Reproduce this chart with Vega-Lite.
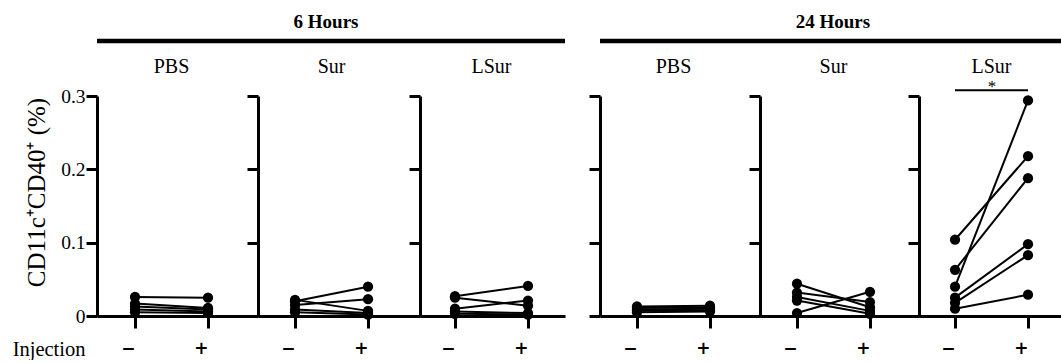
{
  "$schema": "https://vega.github.io/schema/vega-lite/v6.json",
  "padding": {"left": 12, "top": 12, "right": 0, "bottom": 0},
  "config": {
    "view": {"stroke": null},
    "font": "Liberation Serif",
    "axis": {"grid": false, "domainColor": "black", "domainWidth": 3, "tickColor": "black", "tickWidth": 3, "labelColor": "black", "titleColor": "black"},
    "text": {"color": "black", "font": "Liberation Serif", "fontSize": 20, "baseline": "middle", "align": "center", "clip": false}
  },
  "data": {"values": [
    {"time": "6 Hours", "treatment": "PBS", "subject": 1, "injection": "−", "value": 0.026},
    {"time": "6 Hours", "treatment": "PBS", "subject": 1, "injection": "+", "value": 0.025},
    {"time": "6 Hours", "treatment": "PBS", "subject": 2, "injection": "−", "value": 0.017},
    {"time": "6 Hours", "treatment": "PBS", "subject": 2, "injection": "+", "value": 0.011},
    {"time": "6 Hours", "treatment": "PBS", "subject": 3, "injection": "−", "value": 0.013},
    {"time": "6 Hours", "treatment": "PBS", "subject": 3, "injection": "+", "value": 0.009},
    {"time": "6 Hours", "treatment": "PBS", "subject": 4, "injection": "−", "value": 0.009},
    {"time": "6 Hours", "treatment": "PBS", "subject": 4, "injection": "+", "value": 0.006},
    {"time": "6 Hours", "treatment": "PBS", "subject": 5, "injection": "−", "value": 0.005},
    {"time": "6 Hours", "treatment": "PBS", "subject": 5, "injection": "+", "value": 0.004},
    {"time": "6 Hours", "treatment": "Sur", "subject": 1, "injection": "−", "value": 0.020},
    {"time": "6 Hours", "treatment": "Sur", "subject": 1, "injection": "+", "value": 0.040},
    {"time": "6 Hours", "treatment": "Sur", "subject": 2, "injection": "−", "value": 0.022},
    {"time": "6 Hours", "treatment": "Sur", "subject": 2, "injection": "+", "value": 0.007},
    {"time": "6 Hours", "treatment": "Sur", "subject": 3, "injection": "−", "value": 0.015},
    {"time": "6 Hours", "treatment": "Sur", "subject": 3, "injection": "+", "value": 0.023},
    {"time": "6 Hours", "treatment": "Sur", "subject": 4, "injection": "−", "value": 0.009},
    {"time": "6 Hours", "treatment": "Sur", "subject": 4, "injection": "+", "value": 0.004},
    {"time": "6 Hours", "treatment": "Sur", "subject": 5, "injection": "−", "value": 0.005},
    {"time": "6 Hours", "treatment": "Sur", "subject": 5, "injection": "+", "value": 0.002},
    {"time": "6 Hours", "treatment": "LSur", "subject": 1, "injection": "−", "value": 0.027},
    {"time": "6 Hours", "treatment": "LSur", "subject": 1, "injection": "+", "value": 0.041},
    {"time": "6 Hours", "treatment": "LSur", "subject": 2, "injection": "−", "value": 0.025},
    {"time": "6 Hours", "treatment": "LSur", "subject": 2, "injection": "+", "value": 0.014},
    {"time": "6 Hours", "treatment": "LSur", "subject": 3, "injection": "−", "value": 0.010},
    {"time": "6 Hours", "treatment": "LSur", "subject": 3, "injection": "+", "value": 0.021},
    {"time": "6 Hours", "treatment": "LSur", "subject": 4, "injection": "−", "value": 0.006},
    {"time": "6 Hours", "treatment": "LSur", "subject": 4, "injection": "+", "value": 0.004},
    {"time": "6 Hours", "treatment": "LSur", "subject": 5, "injection": "−", "value": 0.003},
    {"time": "6 Hours", "treatment": "LSur", "subject": 5, "injection": "+", "value": 0.002},
    {"time": "24 Hours", "treatment": "PBS", "subject": 1, "injection": "−", "value": 0.013},
    {"time": "24 Hours", "treatment": "PBS", "subject": 1, "injection": "+", "value": 0.014},
    {"time": "24 Hours", "treatment": "PBS", "subject": 2, "injection": "−", "value": 0.011},
    {"time": "24 Hours", "treatment": "PBS", "subject": 2, "injection": "+", "value": 0.012},
    {"time": "24 Hours", "treatment": "PBS", "subject": 3, "injection": "−", "value": 0.009},
    {"time": "24 Hours", "treatment": "PBS", "subject": 3, "injection": "+", "value": 0.010},
    {"time": "24 Hours", "treatment": "PBS", "subject": 4, "injection": "−", "value": 0.007},
    {"time": "24 Hours", "treatment": "PBS", "subject": 4, "injection": "+", "value": 0.008},
    {"time": "24 Hours", "treatment": "PBS", "subject": 5, "injection": "−", "value": 0.005},
    {"time": "24 Hours", "treatment": "PBS", "subject": 5, "injection": "+", "value": 0.006},
    {"time": "24 Hours", "treatment": "Sur", "subject": 1, "injection": "−", "value": 0.004},
    {"time": "24 Hours", "treatment": "Sur", "subject": 1, "injection": "+", "value": 0.033},
    {"time": "24 Hours", "treatment": "Sur", "subject": 2, "injection": "−", "value": 0.044},
    {"time": "24 Hours", "treatment": "Sur", "subject": 2, "injection": "+", "value": 0.012},
    {"time": "24 Hours", "treatment": "Sur", "subject": 3, "injection": "−", "value": 0.032},
    {"time": "24 Hours", "treatment": "Sur", "subject": 3, "injection": "+", "value": 0.019},
    {"time": "24 Hours", "treatment": "Sur", "subject": 4, "injection": "−", "value": 0.026},
    {"time": "24 Hours", "treatment": "Sur", "subject": 4, "injection": "+", "value": 0.007},
    {"time": "24 Hours", "treatment": "Sur", "subject": 5, "injection": "−", "value": 0.021},
    {"time": "24 Hours", "treatment": "Sur", "subject": 5, "injection": "+", "value": 0.003},
    {"time": "24 Hours", "treatment": "LSur", "subject": 1, "injection": "−", "value": 0.104},
    {"time": "24 Hours", "treatment": "LSur", "subject": 1, "injection": "+", "value": 0.218},
    {"time": "24 Hours", "treatment": "LSur", "subject": 2, "injection": "−", "value": 0.063},
    {"time": "24 Hours", "treatment": "LSur", "subject": 2, "injection": "+", "value": 0.188},
    {"time": "24 Hours", "treatment": "LSur", "subject": 3, "injection": "−", "value": 0.040},
    {"time": "24 Hours", "treatment": "LSur", "subject": 3, "injection": "+", "value": 0.294},
    {"time": "24 Hours", "treatment": "LSur", "subject": 4, "injection": "−", "value": 0.025},
    {"time": "24 Hours", "treatment": "LSur", "subject": 4, "injection": "+", "value": 0.098},
    {"time": "24 Hours", "treatment": "LSur", "subject": 5, "injection": "−", "value": 0.018},
    {"time": "24 Hours", "treatment": "LSur", "subject": 5, "injection": "+", "value": 0.083},
    {"time": "24 Hours", "treatment": "LSur", "subject": 6, "injection": "−", "value": 0.010},
    {"time": "24 Hours", "treatment": "LSur", "subject": 6, "injection": "+", "value": 0.029}
  ]},
  "bounds": "flush",
  "spacing": 0,
  "hconcat": [
    {
      "width": 161, "height": 220,
      "layer": [
        {"data": {"values": [{"group": "6 Hours"}]},
         "mark": {"type": "rule", "strokeWidth": 4.5, "color": "black", "clip": false},
         "encoding": {"y": {"datum": 0.375}}},
        {"data": {"values": [{"label": "PBS"}]},
         "mark": {"type": "text", "dx": 36.5},
         "encoding": {"x": {"datum": "−"}, "y": {"datum": 0.339}, "text": {"field": "label"}}},
        {"transform": [{"filter": "datum.time === '6 Hours' && datum.treatment === 'PBS'"}],
         "mark": {"type": "line", "color": "black", "strokeWidth": 2},
         "encoding": {
           "x": {"field": "injection", "type": "nominal", "scale": {"type": "point", "domain": ["−", "+"], "padding": 0.6027, "align": 0.432},
             "axis": {"labelAngle": 0, "tickSize": 12, "labelFont": "DejaVu Sans", "labelFontWeight": "bold", "labelFontSize": 17, "labelPadding": 20, "title": "Injection", "titleFont": "Liberation Serif", "titleFontSize": 20.5, "titleFontWeight": "normal", "titleX": -12, "titleY": 39, "titleAlign": "right", "titleBaseline": "alphabetic"}},
           "y": {"field": "value", "type": "quantitative", "scale": {"domain": [0, 0.3], "nice": false},
             "axis": {"values": [0, 0.05, 0.1, 0.15, 0.2, 0.25, 0.3], "tickSize": 11, "labelPadding": 1, "labelFont": "Liberation Serif", "labelFontSize": 19.5,
               "labelExpr": "round(datum.value * 20) % 2 === 0 ? (datum.value === 0 ? '0' : format(datum.value, '.1f')) : ''",
               "title": "CD11c⁺CD40⁺ (%)", "titleFont": "Liberation Serif", "titleFontSize": 25, "titleFontWeight": "normal", "titleX": -61, "titleY": 96, "titleAngle": 270, "titleAlign": "center", "titleBaseline": "middle"}},
           "detail": {"field": "subject", "type": "nominal"}
         }},
        {"transform": [{"filter": "datum.time === '6 Hours' && datum.treatment === 'PBS'"}],
         "mark": {"type": "circle", "color": "black", "size": 105, "opacity": 1},
         "encoding": {"x": {"field": "injection", "type": "nominal"}, "y": {"field": "value", "type": "quantitative"}}}
      ]
    },
    {
      "width": 162, "height": 220,
      "layer": [
        {"data": {"values": [{"group": "6 Hours"}]},
         "mark": {"type": "rule", "strokeWidth": 4.5, "color": "black", "clip": false},
         "encoding": {"y": {"datum": 0.375}}},
        {"data": {"values": [{"group": "6 Hours"}]},
         "mark": {"type": "text", "fontWeight": "bold", "fontSize": 19, "dx": 31},
         "encoding": {"x": {"datum": "−"}, "y": {"datum": 0.401}, "text": {"field": "group"}}},
        {"data": {"values": [{"label": "Sur"}]},
         "mark": {"type": "text", "dx": 36.5},
         "encoding": {"x": {"datum": "−"}, "y": {"datum": 0.339}, "text": {"field": "label"}}},
        {"transform": [{"filter": "datum.time === '6 Hours' && datum.treatment === 'Sur'"}],
         "mark": {"type": "line", "color": "black", "strokeWidth": 2},
         "encoding": {
           "x": {"field": "injection", "type": "nominal", "scale": {"type": "point", "domain": ["−", "+"], "padding": 0.6096, "align": 0.416},
             "axis": {"labelAngle": 0, "tickSize": 12, "labelFont": "DejaVu Sans", "labelFontWeight": "bold", "labelFontSize": 17, "labelPadding": 20, "title": null}},
           "y": {"field": "value", "type": "quantitative", "scale": {"domain": [0, 0.3], "nice": false},
             "axis": {"values": [0, 0.05, 0.1, 0.15, 0.2, 0.25, 0.3], "tickSize": 11, "labels": false, "title": null}},
           "detail": {"field": "subject", "type": "nominal"}
         }},
        {"transform": [{"filter": "datum.time === '6 Hours' && datum.treatment === 'Sur'"}],
         "mark": {"type": "circle", "color": "black", "size": 105, "opacity": 1},
         "encoding": {"x": {"field": "injection", "type": "nominal"}, "y": {"field": "value", "type": "quantitative"}}}
      ]
    },
    {
      "width": 145, "height": 220,
      "layer": [
        {"data": {"values": [{"group": "6 Hours"}]},
         "mark": {"type": "rule", "strokeWidth": 4.5, "color": "black", "clip": false},
         "encoding": {"y": {"datum": 0.375}}},
        {"data": {"values": [{"label": "LSur"}]},
         "mark": {"type": "text", "dx": 36.5},
         "encoding": {"x": {"datum": "−"}, "y": {"datum": 0.339}, "text": {"field": "label"}}},
        {"transform": [{"filter": "datum.time === '6 Hours' && datum.treatment === 'LSur'"}],
         "mark": {"type": "line", "color": "black", "strokeWidth": 2},
         "encoding": {
           "x": {"field": "injection", "type": "nominal", "scale": {"type": "point", "domain": ["−", "+"], "padding": 0.4932, "align": 0.486},
             "axis": {"labelAngle": 0, "tickSize": 12, "labelFont": "DejaVu Sans", "labelFontWeight": "bold", "labelFontSize": 17, "labelPadding": 20, "title": null}},
           "y": {"field": "value", "type": "quantitative", "scale": {"domain": [0, 0.3], "nice": false},
             "axis": {"values": [0, 0.05, 0.1, 0.15, 0.2, 0.25, 0.3], "tickSize": 11, "labels": false, "title": null}},
           "detail": {"field": "subject", "type": "nominal"}
         }},
        {"transform": [{"filter": "datum.time === '6 Hours' && datum.treatment === 'LSur'"}],
         "mark": {"type": "circle", "color": "black", "size": 105, "opacity": 1},
         "encoding": {"x": {"field": "injection", "type": "nominal"}, "y": {"field": "value", "type": "quantitative"}}}
      ]
    },
    {
      "width": 35, "height": 220,
      "data": {"values": [{"group": ""}]},
      "mark": {"type": "text"},
      "encoding": {"text": {"field": "group"}}
    },
    {
      "width": 160, "height": 220,
      "layer": [
        {"data": {"values": [{"group": "24 Hours"}]},
         "mark": {"type": "rule", "strokeWidth": 4.5, "color": "black", "clip": false},
         "encoding": {"y": {"datum": 0.375}}},
        {"data": {"values": [{"label": "PBS"}]},
         "mark": {"type": "text", "dx": 36.5},
         "encoding": {"x": {"datum": "−"}, "y": {"datum": 0.339}, "text": {"field": "label"}}},
        {"transform": [{"filter": "datum.time === '24 Hours' && datum.treatment === 'PBS'"}],
         "mark": {"type": "line", "color": "black", "strokeWidth": 2},
         "encoding": {
           "x": {"field": "injection", "type": "nominal", "scale": {"type": "point", "domain": ["−", "+"], "padding": 0.596, "align": 0.425},
             "axis": {"labelAngle": 0, "tickSize": 12, "labelFont": "DejaVu Sans", "labelFontWeight": "bold", "labelFontSize": 17, "labelPadding": 20, "title": null}},
           "y": {"field": "value", "type": "quantitative", "scale": {"domain": [0, 0.3], "nice": false},
             "axis": {"values": [0, 0.05, 0.1, 0.15, 0.2, 0.25, 0.3], "tickSize": 11, "labels": false, "title": null}},
           "detail": {"field": "subject", "type": "nominal"}
         }},
        {"transform": [{"filter": "datum.time === '24 Hours' && datum.treatment === 'PBS'"}],
         "mark": {"type": "circle", "color": "black", "size": 105, "opacity": 1},
         "encoding": {"x": {"field": "injection", "type": "nominal"}, "y": {"field": "value", "type": "quantitative"}}}
      ]
    },
    {
      "width": 159, "height": 220,
      "layer": [
        {"data": {"values": [{"group": "24 Hours"}]},
         "mark": {"type": "rule", "strokeWidth": 4.5, "color": "black", "clip": false},
         "encoding": {"y": {"datum": 0.375}}},
        {"data": {"values": [{"group": "24 Hours"}]},
         "mark": {"type": "text", "fontWeight": "bold", "fontSize": 19, "dx": 36},
         "encoding": {"x": {"datum": "−"}, "y": {"datum": 0.401}, "text": {"field": "group"}}},
        {"data": {"values": [{"label": "Sur"}]},
         "mark": {"type": "text", "dx": 36.5},
         "encoding": {"x": {"datum": "−"}, "y": {"datum": 0.339}, "text": {"field": "label"}}},
        {"transform": [{"filter": "datum.time === '24 Hours' && datum.treatment === 'Sur'"}],
         "mark": {"type": "line", "color": "black", "strokeWidth": 2},
         "encoding": {
           "x": {"field": "injection", "type": "nominal", "scale": {"type": "point", "domain": ["−", "+"], "padding": 0.589, "align": 0.43},
             "axis": {"labelAngle": 0, "tickSize": 12, "labelFont": "DejaVu Sans", "labelFontWeight": "bold", "labelFontSize": 17, "labelPadding": 20, "title": null}},
           "y": {"field": "value", "type": "quantitative", "scale": {"domain": [0, 0.3], "nice": false},
             "axis": {"values": [0, 0.05, 0.1, 0.15, 0.2, 0.25, 0.3], "tickSize": 11, "labels": false, "title": null}},
           "detail": {"field": "subject", "type": "nominal"}
         }},
        {"transform": [{"filter": "datum.time === '24 Hours' && datum.treatment === 'Sur'"}],
         "mark": {"type": "circle", "color": "black", "size": 105, "opacity": 1},
         "encoding": {"x": {"field": "injection", "type": "nominal"}, "y": {"field": "value", "type": "quantitative"}}}
      ]
    },
    {
      "width": 142, "height": 220,
      "layer": [
        {"data": {"values": [{"group": "24 Hours"}]},
         "mark": {"type": "rule", "strokeWidth": 4.5, "color": "black", "clip": false},
         "encoding": {"y": {"datum": 0.375}}},
        {"data": {"values": [{"label": "LSur"}]},
         "mark": {"type": "text", "dx": 36.5},
         "encoding": {"x": {"datum": "−"}, "y": {"datum": 0.339}, "text": {"field": "label"}}},
        {"transform": [{"filter": "datum.time === '24 Hours' && datum.treatment === 'LSur'"}],
         "mark": {"type": "line", "color": "black", "strokeWidth": 2},
         "encoding": {
           "x": {"field": "injection", "type": "nominal", "scale": {"type": "point", "domain": ["−", "+"], "padding": 0.4726, "align": 0.522},
             "axis": {"labelAngle": 0, "tickSize": 12, "labelFont": "DejaVu Sans", "labelFontWeight": "bold", "labelFontSize": 17, "labelPadding": 20, "title": null}},
           "y": {"field": "value", "type": "quantitative", "scale": {"domain": [0, 0.3], "nice": false},
             "axis": {"values": [0, 0.05, 0.1, 0.15, 0.2, 0.25, 0.3], "tickSize": 11, "labels": false, "title": null}},
           "detail": {"field": "subject", "type": "nominal"}
         }},
        {"transform": [{"filter": "datum.time === '24 Hours' && datum.treatment === 'LSur'"}],
         "mark": {"type": "circle", "color": "black", "size": 105, "opacity": 1},
         "encoding": {"x": {"field": "injection", "type": "nominal"}, "y": {"field": "value", "type": "quantitative"}}},
        {"data": {"values": [{"label": "*"}]},
         "mark": {"type": "rule", "color": "black", "strokeWidth": 2, "clip": false},
         "encoding": {"x": {"datum": "−"}, "x2": {"datum": "+"}, "y": {"datum": 0.308}}},
        {"data": {"values": [{"label": "*"}]},
         "mark": {"type": "text", "fontSize": 17, "dx": 37},
         "encoding": {"x": {"datum": "−"}, "y": {"datum": 0.312}, "text": {"field": "label"}}}
      ]
    }
  ]
}
